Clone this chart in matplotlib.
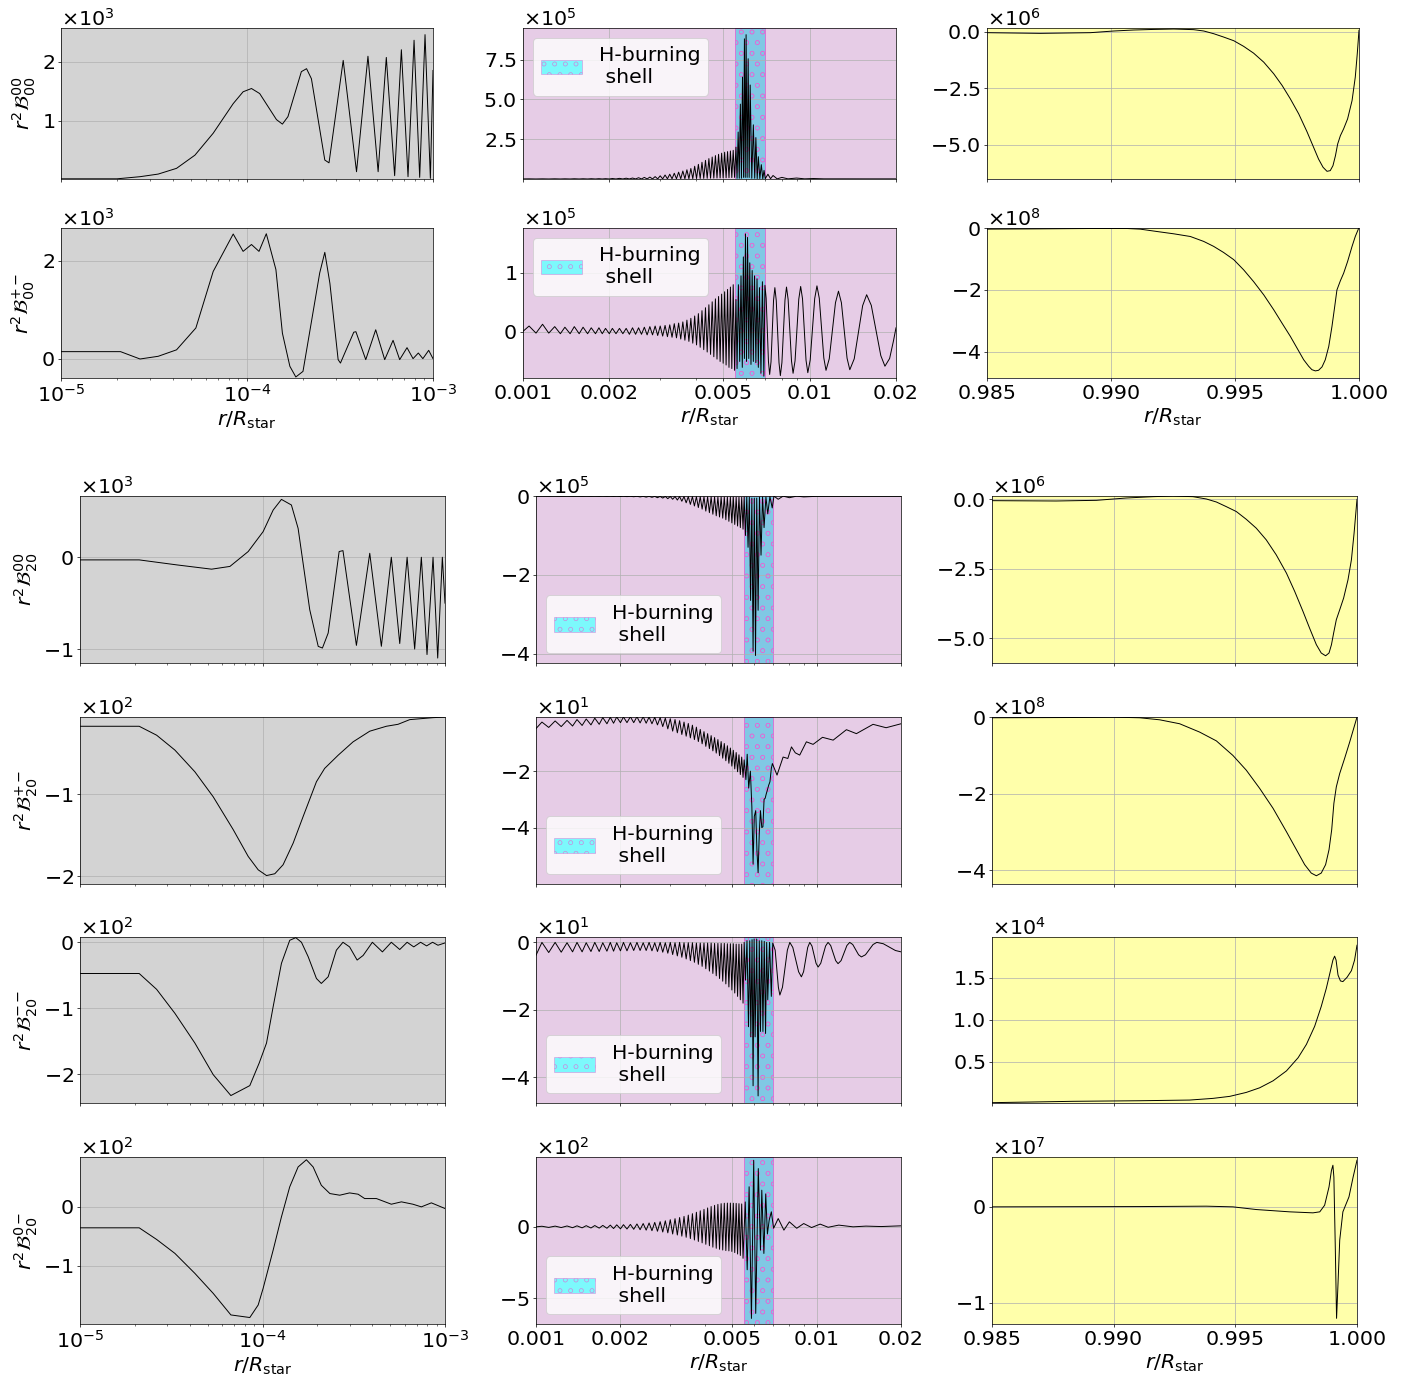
import matplotlib
matplotlib.use('Agg')
import matplotlib.pyplot as plt
import numpy as np
from matplotlib import ticker
from matplotlib.patches import Patch

W, H, DPI = 1425, 1383, 64
plt.rcParams['font.size'] = 23
plt.rcParams['hatch.linewidth'] = 0.6

# ---------------- data: core (left column) ----------------
tl1_r = [1.0e-5, 2.0e-5, 2.66e-5, 3.33e-5, 4.18e-5, 5.25e-5, 6.58e-5, 8.43e-5, 9.53e-5, 1.057e-4,
         1.17e-4, 1.44e-4, 1.55e-4, 1.66e-4, 1.96e-4, 2.09e-4, 2.22e-4, 2.62e-4, 2.76e-4, 3.29e-4,
         3.88e-4, 4.47e-4, 5.07e-4, 5.61e-4, 6.22e-4, 6.76e-4, 7.34e-4, 7.91e-4, 8.48e-4, 9.06e-4,
         9.68e-4, 1.0e-3]
tl1_y = [0.02, 0.02, 0.056, 0.1, 0.197, 0.42, 0.79, 1.29, 1.49, 1.545,
         1.46, 1.02, 0.944, 1.07, 1.83, 1.88, 1.71, 0.337, 0.29, 2.02,
         0.14, 2.09, 0.14, 2.07, 0.073, 2.2, 0.056, 2.36, 0.045, 2.455,
         0.028, 1.85]

tl2_r = [1.0e-5, 2.09e-5, 2.66e-5, 3.33e-5, 4.18e-5, 5.31e-5, 6.58e-5, 8.43e-5, 9.53e-5, 1.057e-4,
         1.16e-4, 1.27e-4, 1.43e-4, 1.55e-4, 1.70e-4, 1.83e-4, 2.0e-4, 2.46e-4, 2.62e-4, 2.79e-4,
         3.09e-4, 3.18e-4, 3.75e-4, 3.85e-4, 4.35e-4, 4.92e-4, 5.5e-4, 6.1e-4, 6.62e-4, 7.25e-4,
         7.81e-4, 8.34e-4, 8.82e-4, 9.48e-4, 1.0e-3]
tl2_y = [0.143, 0.143, -0.007, 0.048, 0.18, 0.626, 1.78, 2.544, 2.19, 2.33,
         2.19, 2.55, 1.82, 0.52, -0.156, -0.374, -0.26, 1.75, 2.17, 1.54,
         -0.02, -0.09, 0.54, 0.55, -0.02, 0.59, -0.02, 0.374, -0.02, 0.224,
         0.0, 0.115, 0.0, 0.17, 0.0]

bl1_r = [1.0e-5, 2.11e-5, 3.38e-5, 5.26e-5, 6.63e-5, 8.35e-5, 1.008e-4, 1.144e-4, 1.27e-4, 1.44e-4,
         1.567e-4, 1.815e-4, 2.02e-4, 2.13e-4, 2.29e-4, 2.63e-4, 2.76e-4, 3.27e-4, 3.87e-4, 4.48e-4,
         5.08e-4, 5.65e-4, 6.2e-4, 6.82e-4, 7.42e-4, 7.97e-4, 8.6e-4, 9.12e-4, 9.67e-4, 1.0e-3]
bl1_y = [-0.029, -0.029, -0.083, -0.13, -0.10, 0.062, 0.279, 0.514, 0.63, 0.569,
         0.315, -0.572, -0.971, -0.989, -0.826, 0.062, 0.072, -0.96, 0.043, -0.97,
         0.0, -0.94, 0.0, -1.0, 0.0, -1.06, 0.0, -1.098, 0.0, -0.5]

bl2_r = [1.0e-5, 2.11e-5, 2.63e-5, 3.31e-5, 4.26e-5, 5.37e-5, 6.91e-5, 8.35e-5, 9.47e-5, 1.052e-4,
         1.168e-4, 1.297e-4, 1.472e-4, 1.67e-4, 1.975e-4, 2.19e-4, 2.6e-4, 3.135e-4, 3.87e-4, 4.77e-4,
         5.53e-4, 6.41e-4, 7.42e-4, 8.6e-4, 1.0e-3]
bl2_y = [-0.17, -0.17, -0.279, -0.46, -0.725, -1.03, -1.43, -1.757, -1.92, -1.99,
         -1.968, -1.858, -1.595, -1.27, -0.846, -0.684, -0.522, -0.36, -0.23, -0.17,
         -0.146, -0.089, -0.077, -0.065, -0.057]

bl3_r = [1.0e-5, 2.11e-5, 2.63e-5, 3.31e-5, 4.26e-5, 5.37e-5, 6.71e-5, 8.52e-5, 9.59e-5, 1.052e-4,
         1.144e-4, 1.27e-4, 1.41e-4, 1.522e-4, 1.635e-4, 1.78e-4, 1.975e-4, 2.1e-4, 2.29e-4, 2.54e-4,
         2.76e-4, 3.0e-4, 3.3e-4, 3.56e-4, 4.0e-4, 4.54e-4, 5.08e-4, 5.65e-4, 6.2e-4, 6.74e-4,
         7.35e-4, 7.93e-4, 8.55e-4, 9.15e-4, 1.0e-3]
bl3_y = [-0.474, -0.474, -0.715, -1.078, -1.53, -2.01, -2.327, -2.176, -1.834, -1.53,
         -0.977, -0.32, 0.03, 0.07, 0.0, -0.22, -0.55, -0.625, -0.524, -0.12,
         0.0, -0.07, -0.27, -0.2, 0.0, -0.146, 0.0, -0.11, 0.0, -0.07,
         0.0, -0.055, 0.0, -0.045, -0.01]

bl4_r = [1.0e-5, 2.11e-5, 2.63e-5, 3.31e-5, 4.26e-5, 5.37e-5, 6.71e-5, 8.52e-5, 9.47e-5, 1.008e-4,
         1.144e-4, 1.27e-4, 1.41e-4, 1.567e-4, 1.74e-4, 1.894e-4, 2.1e-4, 2.34e-4, 2.65e-4, 3.0e-4,
         3.34e-4, 3.63e-4, 4.21e-4, 5.08e-4, 5.77e-4, 6.67e-4, 7.42e-4, 8.42e-4, 1.0e-3]
bl4_y = [-0.356, -0.356, -0.554, -0.79, -1.13, -1.47, -1.836, -1.88, -1.667, -1.384,
         -0.734, -0.17, 0.34, 0.678, 0.80, 0.678, 0.367, 0.226, 0.198, 0.237,
         0.215, 0.141, 0.141, 0.045, 0.085, 0.045, 0.0, 0.068, -0.028]

# ---------------- data: shell region (middle column) ----------------
# positions of the oscillation extrema below the shell, in units of 1e-3
mid_peak_r = [1.05, 1.17, 1.29, 1.40, 1.51, 1.62, 1.73, 1.84, 1.94,
              2.05, 2.17, 2.29, 2.41, 2.53, 2.65, 2.77, 2.89,
              3.01, 3.13, 3.25, 3.37, 3.49, 3.61, 3.73, 3.85,
              3.97, 4.09, 4.21, 4.33, 4.45, 4.57, 4.69,
              4.81, 4.93, 5.05, 5.17, 5.29, 5.41]
mid_dip_r = [1.11, 1.23, 1.35, 1.46, 1.57, 1.68, 1.79, 1.89, 2.00,
             2.11, 2.23, 2.35, 2.47, 2.59, 2.71, 2.83, 2.95,
             3.07, 3.19, 3.31, 3.43, 3.55, 3.67, 3.79, 3.91,
             4.03, 4.15, 4.27, 4.39, 4.51, 4.63, 4.75,
             4.87, 4.99, 5.11, 5.23, 5.35, 5.47]

tm1_hi = [0.01, 0.01, 0.012, 0.012, 0.015, 0.015, 0.018, 0.02, 0.02,
          0.03, 0.04, 0.05, 0.06, 0.08, 0.1, 0.12, 0.15,
          0.2, 0.25, 0.3, 0.36, 0.43, 0.5, 0.58, 0.66,
          0.8, 0.92, 1.05, 1.17, 1.28, 1.38, 1.47,
          1.55, 1.62, 1.68, 1.72, 1.76, 1.8]
tm1_lo = [0.002, 0.002, 0.002, 0.002, 0.002, 0.002, 0.002, 0.002, 0.002,
          0.003, 0.003, 0.003, 0.004, 0.004, 0.005, 0.006, 0.007,
          0.008, 0.01, 0.012, 0.014, 0.016, 0.018, 0.02, 0.025,
          0.03, 0.035, 0.04, 0.045, 0.05, 0.055, 0.06,
          0.065, 0.07, 0.075, 0.08, 0.09, 0.1]
tm1_shell_r = [5.53, 5.58, 5.63, 5.68, 5.73, 5.78, 5.83, 5.88, 5.92, 5.96, 6.00, 6.05, 6.10,
               6.15, 6.20, 6.28, 6.36, 6.43, 6.49, 6.56, 6.62, 6.70, 6.78, 6.86, 6.93, 7.00]
tm1_shell_y = [2.0, 0.05, 2.95, 0.05, 4.7, 0.05, 6.4, 0.1, 8.8, 0.1, 9.06, 0.1, 7.55,
               0.1, 5.9, 0.05, 3.4, 0.05, 2.6, 0.03, 1.4, 0.03, 0.9, 0.02, 0.54, 0.02]
tm1_tail_r = [7.15, 7.3, 7.45, 7.7, 8.0, 8.4, 9.0, 9.6, 10.3, 11.2, 13.0, 16.0, 20.0]
tm1_tail_y = [0.3, 0.02, 0.22, 0.01, 0.1, 0.01, 0.06, 0.01, 0.03, 0.01, 0.01, 0.008, 0.008]

tm2_hi = [0.1, 0.13, 0.09, 0.08, 0.09, 0.08, 0.07, 0.07, 0.06,
          0.06, 0.06, 0.06, 0.07, 0.07, 0.08, 0.09, 0.1,
          0.1, 0.11, 0.12, 0.14, 0.15, 0.17, 0.2, 0.23,
          0.27, 0.31, 0.36, 0.41, 0.46, 0.51, 0.56,
          0.6, 0.64, 0.68, 0.72, 0.76, 0.8]
tm2_lo = [-0.02, -0.02, -0.03, -0.03, -0.03, -0.03, -0.03, -0.03, -0.03,
          -0.03, -0.03, -0.04, -0.04, -0.04, -0.05, -0.05, -0.06,
          -0.07, -0.08, -0.09, -0.1, -0.12, -0.14, -0.16, -0.19,
          -0.22, -0.26, -0.3, -0.34, -0.38, -0.42, -0.46,
          -0.5, -0.53, -0.56, -0.6, -0.62, -0.65]
tm2_shell_r = [5.53, 5.58, 5.64, 5.70, 5.76, 5.82, 5.87, 5.92, 5.97, 6.02, 6.07, 6.13, 6.18,
               6.24, 6.30, 6.36, 6.42, 6.49, 6.55, 6.62, 6.68, 6.76, 6.84, 6.92, 6.98]
tm2_shell_y = [0.55, -0.62, 0.8, -0.5, 0.95, -0.6, 1.27, -0.45, 1.66, -0.5, 1.6, -0.45, 1.17,
               -0.55, 1.04, -0.5, 0.95, -0.52, 0.9, -0.6, 0.75, -0.7, 0.85, -0.75, 0.79]
tm2_tail_r = [7.05, 7.18, 7.25, 7.33, 7.48, 7.56, 7.645, 7.815, 7.9, 8.0, 8.2, 8.3,
              8.41, 8.64, 8.75, 8.89, 9.16, 9.3, 9.44, 9.71, 9.85, 10.04, 10.41, 10.6,
              10.8, 11.2, 11.4, 11.7, 12.3, 12.6, 12.9, 13.5, 13.8, 14.3, 15.3, 15.8,
              16.4, 17.7, 18.3, 19.0, 19.6, 20.0]
tm2_tail_y = [0.57, -0.5, -0.72, -0.505, 0.535, 0.75, 0.53, -0.52, -0.74, -0.52, 0.54, 0.76,
              0.55, -0.49, -0.7, -0.49, 0.555, 0.77, 0.56, -0.48, -0.69, -0.475, 0.565, 0.78,
              0.57, -0.44, -0.65, -0.455, 0.495, 0.69, 0.495, -0.445, -0.64, -0.455, 0.445, 0.63,
              0.45, -0.4, -0.58, -0.45, -0.15, 0.07]

bm1_hi = [-0.001, -0.001, -0.001, -0.002, -0.002, -0.002, -0.002, -0.003, -0.003,
          -0.003, -0.004, -0.004, -0.005, -0.005, -0.006, -0.007, -0.008,
          -0.009, -0.01, -0.011, -0.012, -0.013, -0.014, -0.015, -0.016,
          -0.017, -0.018, -0.019, -0.02, -0.021, -0.022, -0.023,
          -0.024, -0.025, -0.026, -0.027, -0.028, -0.03]
bm1_lo = [-0.003, -0.004, -0.004, -0.005, -0.005, -0.006, -0.007, -0.008, -0.01,
          -0.012, -0.015, -0.02, -0.025, -0.03, -0.04, -0.05, -0.065,
          -0.08, -0.1, -0.13, -0.17, -0.21, -0.25, -0.29, -0.33,
          -0.38, -0.42, -0.46, -0.5, -0.53, -0.56, -0.6,
          -0.64, -0.68, -0.72, -0.76, -0.8, -0.84]
bm1_shell_r = [5.52, 5.58, 5.64, 5.70, 5.76, 5.82, 5.88, 5.94, 6.00, 6.06,
               6.12, 6.19, 6.26, 6.34, 6.42, 6.50, 6.60, 6.70, 6.82, 6.95]
bm1_shell_y = [-0.02, -1.0, -0.02, -1.3, -0.03, -2.65, -0.05, -3.94, -0.05, -4.05,
               -0.05, -2.9, -0.03, -1.5, -0.02, -0.8, -0.02, -0.45, -0.01, -0.3]
bm1_tail_r = [7.05, 7.3, 7.6, 8.0, 8.5, 9.0, 10.0, 12.0, 15.0, 20.0]
bm1_tail_y = [0.0, -0.08, 0.0, -0.04, 0.0, -0.02, -0.005, -0.002, -0.001, -0.001]

bm2_hi = [-0.26, -0.22, -0.2, -0.17, -0.15, -0.12, -0.1, -0.09, -0.08,
          -0.08, -0.07, -0.07, -0.07, -0.08, -0.09, -0.1, -0.12,
          -0.14, -0.17, -0.21, -0.26, -0.31, -0.37, -0.44, -0.52,
          -0.6, -0.67, -0.74, -0.81, -0.88, -0.95, -1.02,
          -1.1, -1.18, -1.26, -1.34, -1.42, -1.5]
bm2_lo = [-0.45, -0.42, -0.4, -0.38, -0.36, -0.34, -0.32, -0.3, -0.28,
          -0.28, -0.28, -0.29, -0.3, -0.32, -0.36, -0.42, -0.5,
          -0.58, -0.64, -0.7, -0.76, -0.82, -0.88, -0.95, -1.03,
          -1.12, -1.2, -1.28, -1.36, -1.45, -1.54, -1.63,
          -1.72, -1.82, -1.92, -2.02, -2.12, -2.22]
bm2_shell_r = [5.52, 5.60, 5.66, 5.73, 5.81, 5.88, 5.94, 6.00, 6.07, 6.13, 6.19, 6.25,
               6.31, 6.38, 6.44, 6.50, 6.56, 6.62, 6.68, 6.75, 6.82, 6.90, 6.96]
bm2_shell_y = [-1.6, -2.3, -1.4, -2.6, -2.0, -3.25, -5.3, -3.6, -3.4, -4.8, -5.6, -4.2,
               -3.4, -4.0, -3.97, -3.0, -2.96, -2.8, -2.67, -2.5, -2.38, -1.9, -1.73]
bm2_tail_r = [7.23, 7.6, 7.9, 8.14, 8.4, 8.71, 9.2, 9.72, 10.5, 11.46, 12.78, 13.87, 15.9, 17.7, 20.0]
bm2_tail_y = [-2.14, -1.5, -1.55, -1.14, -1.35, -1.43, -0.96, -1.05, -0.8, -0.9, -0.53, -0.67,
              -0.34, -0.46, -0.32]

bm3_hi = [0.0, 0.0, -0.01, 0.0, -0.01, 0.0, -0.01, 0.0, -0.01,
          0.0, -0.01, 0.0, -0.01, 0.0, -0.01, 0.0, -0.01,
          0.0, -0.01, 0.0, -0.01, -0.01, -0.01, -0.02, -0.02,
          -0.02, -0.02, -0.02, -0.03, -0.03, -0.03, -0.03,
          -0.04, -0.04, -0.04, -0.05, -0.05, -0.05]
bm3_lo = [-0.3, -0.29, -0.28, -0.28, -0.27, -0.27, -0.26, -0.26, -0.25,
          -0.25, -0.24, -0.24, -0.24, -0.25, -0.27, -0.29, -0.32,
          -0.36, -0.4, -0.44, -0.49, -0.54, -0.59, -0.65, -0.71,
          -0.78, -0.85, -0.92, -0.99, -1.07, -1.15, -1.23,
          -1.32, -1.41, -1.5, -1.6, -1.7, -1.8]
bm3_shell_r = [5.52, 5.58, 5.65, 5.72, 5.78, 5.83, 5.89, 5.94, 5.99, 6.04, 6.12, 6.19,
               6.25, 6.31, 6.38, 6.44, 6.51, 6.58, 6.64, 6.70, 6.80, 6.90, 6.98]
bm3_shell_y = [0.0, -1.12, 0.05, -2.5, 0.05, -2.8, 0.08, -4.25, 0.1, -2.8, 0.1, -4.55,
               0.05, -2.64, 0.05, -2.64, 0.03, -2.7, 0.0, -1.7, 0.0, -1.6, -0.02]
bm3_tail_r = [7.12, 7.31, 7.4, 7.56, 7.87, 8.03, 8.23, 8.63, 8.83, 8.99, 9.3, 9.46,
              9.63, 9.96, 10.13, 10.35, 10.77, 10.99, 11.23, 11.7, 11.93, 12.23, 12.83, 13.13,
              13.46, 14.12, 14.45, 14.94, 15.9, 16.4, 17.3, 19.1, 20.0]
bm3_tail_y = [-0.23, -1.33, -1.56, -1.33, -0.23, 0.0, -0.15, -0.87, -1.02, -0.87, -0.15, 0.0,
              -0.107, -0.62, -0.73, -0.62, -0.107, 0.0, -0.092, -0.54, -0.63, -0.54, -0.092, 0.0,
              -0.063, -0.367, -0.43, -0.367, -0.063, 0.0, -0.04, -0.24, -0.28]

bm4_hi = [0.04, 0.05, 0.06, 0.07, 0.08, 0.09, 0.1, 0.12, 0.14,
          0.15, 0.17, 0.2, 0.23, 0.27, 0.31, 0.36, 0.42,
          0.5, 0.57, 0.65, 0.73, 0.82, 0.92, 1.02, 1.12,
          1.22, 1.32, 1.42, 1.5, 1.57, 1.62, 1.65,
          1.66, 1.66, 1.65, 1.64, 1.62, 1.6]
bm4_lo = [-0.04, -0.05, -0.06, -0.07, -0.08, -0.09, -0.1, -0.12, -0.14,
          -0.15, -0.17, -0.2, -0.23, -0.27, -0.31, -0.36, -0.42,
          -0.5, -0.57, -0.65, -0.73, -0.82, -0.92, -1.02, -1.12,
          -1.22, -1.32, -1.42, -1.5, -1.57, -1.62, -1.66,
          -1.68, -1.72, -1.8, -1.9, -2.0, -2.2]
bm4_shell_r = [5.57, 5.66, 5.75, 5.86, 5.97, 6.07, 6.20, 6.31, 6.38, 6.49, 6.59, 6.68, 6.78, 6.90]
bm4_shell_y = [1.74, -3.0, 2.8, -6.4, 4.65, -6.05, 4.07, -1.63, 2.56, -1.86, 2.3, -0.5, 0.47, 1.05]
bm4_tail_r = [7.03, 7.3, 7.65, 8.0, 8.5, 9.0, 9.6, 10.3, 11.0, 12.0, 13.5, 15.0, 17.0, 20.0]
bm4_tail_y = [-0.1, 0.58, -0.23, 0.35, -0.1, 0.23, -0.05, 0.19, -0.03, 0.12, 0.0, 0.05, 0.02, 0.07]

# ---------------- data: surface (right column) ----------------
tr1_r = [0.985, 0.98715, 0.98917, 0.99011, 0.99091, 0.99172, 0.99253, 0.99333, 0.99374, 0.99414,
         0.99454, 0.99495, 0.99535, 0.99575, 0.99616, 0.99656, 0.9969, 0.99723, 0.99757, 0.9979,
         0.99817, 0.99837, 0.99855, 0.99871, 0.99884, 0.99895, 0.99905, 0.99914, 0.99925, 0.99938,
         0.99954, 0.99972, 0.99985, 0.99993, 1.0]
tr1_y = [-0.044, -0.074, -0.044, 0.03, 0.074, 0.1, 0.118, 0.09, 0.03, -0.089,
         -0.237, -0.4, -0.65, -0.95, -1.35, -1.86, -2.38, -2.97, -3.64, -4.42,
         -5.12, -5.64, -6.0, -6.18, -6.15, -5.93, -5.49, -4.97, -4.6, -4.3,
         -3.86, -3.05, -2.01, -0.98, 0.06]

tr2_r = [0.985, 0.98715, 0.98917, 0.99065, 0.99118, 0.99185, 0.99253, 0.9932, 0.99374, 0.99414,
         0.99454, 0.99495, 0.99535, 0.99575, 0.99616, 0.99656, 0.9969, 0.99723, 0.9975, 0.99777,
         0.99797, 0.9981, 0.99824, 0.99837, 0.99851, 0.99864, 0.99878, 0.99891, 0.99902, 0.99911,
         0.99925, 0.99938, 0.99954, 0.99972, 0.99985, 1.0]
tr2_y = [-0.032, -0.022, -0.011, -0.011, -0.032, -0.108, -0.183, -0.27, -0.43, -0.59,
         -0.787, -1.02, -1.35, -1.73, -2.16, -2.64, -3.08, -3.5, -3.88, -4.26,
         -4.47, -4.58, -4.62, -4.6, -4.49, -4.26, -3.83, -3.18, -2.54, -2.0,
         -1.7, -1.46, -1.08, -0.59, -0.27, 0.02]

br1_r = [0.985, 0.98764, 0.98929, 0.99052, 0.99162, 0.99244, 0.99326, 0.99381, 0.99422, 0.99463,
         0.99504, 0.99545, 0.99586, 0.99627, 0.99668, 0.9971, 0.99744, 0.99778, 0.99805, 0.99833,
         0.99853, 0.99871, 0.99885, 0.99895, 0.99904, 0.99915, 0.99929, 0.99945, 0.99963, 0.99977,
         0.99988, 1.0]
br1_y = [-0.048, -0.06, -0.036, 0.048, 0.096, 0.12, 0.096, 0.012, -0.096, -0.264,
         -0.44, -0.72, -1.04, -1.46, -2.0, -2.66, -3.32, -4.04, -4.64, -5.24,
         -5.54, -5.64, -5.54, -5.24, -4.82, -4.34, -3.98, -3.56, -2.9, -2.18,
         -1.22, 0.0]

br2_r = [0.985, 0.98833, 0.98997, 0.99107, 0.99189, 0.99271, 0.99353, 0.99422, 0.9949, 0.99545,
         0.996, 0.99655, 0.9971, 0.99751, 0.99785, 0.99812, 0.99833, 0.99853, 0.99871, 0.99885,
         0.99896, 0.99905, 0.99915, 0.99929, 0.99949, 0.9997, 0.99988, 1.0]
br2_y = [-0.017, -0.01, 0.0, -0.017, -0.07, -0.173, -0.39, -0.62, -1.0, -1.385,
         -1.86, -2.38, -2.99, -3.46, -3.85, -4.07, -4.14, -4.07, -3.85, -3.46,
         -2.94, -2.25, -1.82, -1.47, -1.08, -0.65, -0.26, 0.0]

br3_r = [0.985, 0.98833, 0.99107, 0.99312, 0.99408, 0.99477, 0.99545, 0.996, 0.99655, 0.9971,
         0.99758, 0.99792, 0.99826, 0.99853, 0.99874, 0.9989, 0.99901, 0.99908, 0.99914, 0.99922,
         0.99932, 0.99942, 0.99959, 0.99977, 0.9999, 1.0]
br3_y = [0.012, 0.028, 0.035, 0.043, 0.063, 0.087, 0.134, 0.189, 0.272, 0.39,
         0.547, 0.705, 0.921, 1.157, 1.374, 1.571, 1.709, 1.756, 1.709, 1.531,
         1.461, 1.453, 1.504, 1.583, 1.709, 1.886]

br4_r = [0.985, 0.99107, 0.99381, 0.9949, 0.99586, 0.99723, 0.99819, 0.99847, 0.99867, 0.99885,
         0.99895, 0.99901, 0.99905, 0.99911, 0.99916, 0.99922, 0.99929, 0.99942, 0.99967, 0.99984, 1.0]
br4_y = [0.0, 0.003, 0.007, 0.0, -0.028, -0.052, -0.0625, -0.052, 0.017, 0.208,
         0.38, 0.434, 0.31, -0.45, -1.163, -0.8, -0.347, -0.052, 0.104, 0.31, 0.486]

# ---------------- figure layout ----------------
BG = ['#d3d3d3', '#e6cce6', '#ffffaa']
SHELL = (5.5e-3, 7.0e-3)


def mid_trace(y0, hi, lo, shell_r, shell_y, tail_r, tail_y):
    r = np.concatenate([[1.0], np.column_stack([mid_peak_r, mid_dip_r]).ravel(), shell_r, tail_r])
    y = np.concatenate([[y0], np.column_stack([hi, lo]).ravel(), shell_y, tail_y])
    return r * 1e-3, y


def rect(x0, x1, y0, y1):
    return [x0 / W, 1 - y1 / H, (x1 - x0) / W, (y1 - y0) / H]


def style(ax, col, ylim, yticks, xlabels):
    ax.set_facecolor(BG[col])
    if col == 0:
        ax.set_xscale('log')
        ax.set_xlim(1e-5, 1e-3)
    elif col == 1:
        ax.set_xscale('log')
        ax.set_xlim(1e-3, 2e-2)
        ax.set_xticks([0.001, 0.002, 0.005, 0.01, 0.02])
        ax.set_xticklabels(['0.001', '0.002', '0.005', '0.01', '0.02'])
    else:
        ax.set_xlim(0.985, 1.0)
        ax.set_xticks([0.985, 0.990, 0.995, 1.000])
        ax.xaxis.set_major_formatter(ticker.FormatStrFormatter('%.3f'))
    if col < 2:
        ax.xaxis.set_minor_formatter(ticker.NullFormatter())
    ax.set_ylim(*ylim)
    ax.set_yticks(yticks)
    fmt = ticker.ScalarFormatter(useMathText=True)
    fmt.set_powerlimits((0, 0))
    ax.yaxis.set_major_formatter(fmt)
    ax.grid(True)
    if xlabels:
        ax.set_xlabel(r'$r/R_{\rm star}$')
    else:
        ax.tick_params(labelbottom=False)


groups = [
    dict(cols=[(61, 433), (523, 896), (987, 1359)], rows=[(28, 179), (228, 378)], legloc='upper left'),
    dict(cols=[(80, 445), (536, 901), (992, 1357)],
         rows=[(496, 663), (717, 884), (937, 1103), (1157, 1324)], legloc='lower left'),
]

ylabels = [[r'$r^2\mathcal{B}^{00}_{00}$', r'$r^2\mathcal{B}^{+-}_{00}$'],
           [r'$r^2\mathcal{B}^{00}_{20}$', r'$r^2\mathcal{B}^{+-}_{20}$',
            r'$r^2\mathcal{B}^{--}_{20}$', r'$r^2\mathcal{B}^{0-}_{20}$']]

# per row: (x, y, scale, ylim, yticks) for left, middle, right
panels = [
    [
        [(tl1_r, tl1_y, 1e3, (17, 2567), [1e3, 2e3]),
         (*mid_trace(0.005, tm1_hi, tm1_lo, tm1_shell_r, tm1_shell_y, tm1_tail_r, tm1_tail_y), 1e5,
          (0, 9.48e5), [2.5e5, 5e5, 7.5e5]),
         (tr1_r, tr1_y, 1e6, (-6.52e6, 0.163e6), [-5e6, -2.5e6, 0])],
        [(tl2_r, tl2_y, 1e3, (-395, 2667), [0, 2e3]),
         (*mid_trace(0.01, tm2_hi, tm2_lo, tm2_shell_r, tm2_shell_y, tm2_tail_r, tm2_tail_y), 1e5,
          (-0.78e5, 1.76e5), [0, 1e5]),
         (tr2_r, tr2_y, 1e8, (-4.85e8, 0.005e8), [-4e8, -2e8, 0])],
    ],
    [
        [(bl1_r, bl1_y, 1e3, (-1152, 667), [-1e3, 0]),
         (*mid_trace(0.0, bm1_hi, bm1_lo, bm1_shell_r, bm1_shell_y, bm1_tail_r, bm1_tail_y), 1e5,
          (-4.24e5, 0.003e5), [-4e5, -2e5, 0]),
         (br1_r, br1_y, 1e6, (-5.90e6, 0.12e6), [-5e6, -2.5e6, 0])],
        [(bl2_r, bl2_y, 1e2, (-209.3, -5.7), [-200, -100]),
         (*mid_trace(-0.49, bm2_hi, bm2_lo, bm2_shell_r, bm2_shell_y, bm2_tail_r, bm2_tail_y), 1e1,
          (-60, -0.8), [-40, -20]),
         (br2_r, br2_y, 1e8, (-4.355e8, 0.003e8), [-4e8, -2e8, 0])],
        [(bl3_r, bl3_y, 1e2, (-244, 8), [-200, -100, 0]),
         (*mid_trace(-0.38, bm3_hi, bm3_lo, bm3_shell_r, bm3_shell_y, bm3_tail_r, bm3_tail_y), 1e1,
          (-47.6, 1.6), [-40, -20, 0]),
         (br3_r, br3_y, 1e4, (80, 19840), [5e3, 1e4, 1.5e4])],
        [(bl4_r, bl4_y, 1e2, (-199, 84.7), [-100, 0]),
         (*mid_trace(0.0, bm4_hi, bm4_lo, bm4_shell_r, bm4_shell_y, bm4_tail_r, bm4_tail_y), 1e2,
          (-679, 488), [-500, 0]),
         (br4_r, br4_y, 1e7, (-1.222e7, 0.52e7), [-1e7, 0])],
    ],
]

fig = plt.figure(figsize=(W / DPI, H / DPI), dpi=DPI)

for g, grp in enumerate(groups):
    nrows = len(grp['rows'])
    for i, (y0, y1) in enumerate(grp['rows']):
        for j, (x0, x1) in enumerate(grp['cols']):
            r, y, scale, ylim, yticks = panels[g][i][j]
            ax = fig.add_axes(rect(x0, x1, y0, y1))
            ax.plot(r, np.asarray(y) * scale, color='black', lw=1.1)
            style(ax, j, ylim, yticks, i == nrows - 1)
            if j == 0:
                ax.set_ylabel(ylabels[g][i])
            if j == 1:
                ax.axvspan(*SHELL, facecolor='#80c8e4', edgecolor='orchid', hatch='o', lw=1)
                handle = Patch(facecolor='cyan', alpha=0.5, edgecolor='orchid', hatch='o',
                               label='H-burning\n shell')
                ax.legend(handles=[handle], loc=grp['legloc'])

fig.savefig('out.png', dpi=DPI)
